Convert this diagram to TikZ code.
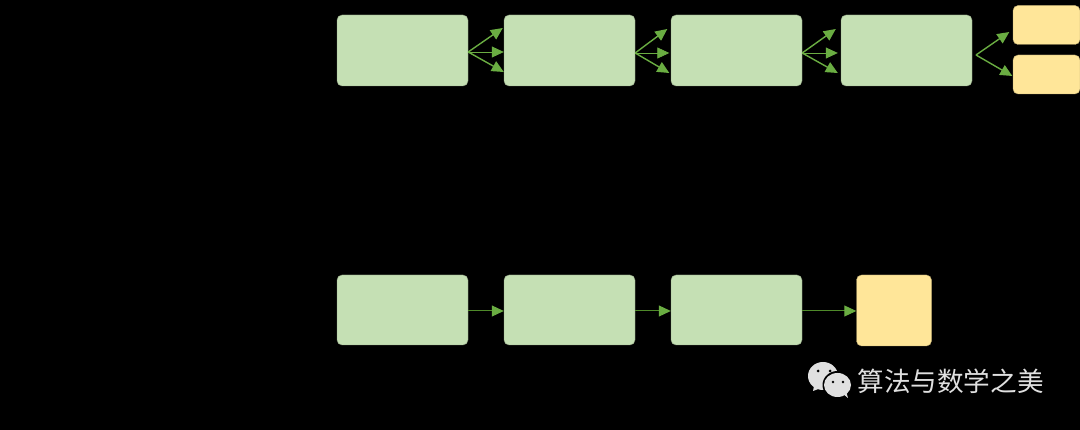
\documentclass[tikz,border=0pt]{standalone}
\usepackage{fontspec}
\newfontfamily\cjk{Noto Sans CJK SC}
\usetikzlibrary{arrows.meta}
\definecolor{boxgreen}{HTML}{C5E0B4}
\definecolor{boxyellow}{HTML}{FFE699}
\definecolor{arrowgreen}{HTML}{6AAD42}
\definecolor{linegreen}{HTML}{4F8A2A}
\definecolor{iconwhite}{HTML}{E0E0E0}
\tikzset{
    greenbox/.style={draw=boxgreen!70!black, line width=0.4pt, fill=boxgreen, rounded corners=5pt,
        inner sep=0pt, minimum width=131pt, minimum height=71pt},
    yellowbox/.style={draw=boxyellow!70!black, line width=0.4pt, fill=boxyellow, rounded corners=5pt,
        inner sep=0pt},
    fan/.style={draw=arrowgreen, line width=1.4pt, -{Triangle[length=12pt,width=11pt,color=arrowgreen]}},
    fanmid/.style={fan, line width=0.8pt},
    flow/.style={draw=linegreen, line width=1pt, -{Triangle[length=12pt,width=11pt,color=arrowgreen]}},
}
\begin{document}
\begin{tikzpicture}[x=1pt, y=-1pt]
    \useasboundingbox (0, 0) rectangle (1080, 430);
    \fill[black] (0, 0) rectangle (1080, 430);

    % top row
    \node[greenbox] (g1) at (402.5, 50.5) {};
    \node[greenbox] (g2) at (569.5, 50.5) {};
    \node[greenbox] (g3) at (736.5, 50.5) {};
    \node[greenbox] (g4) at (906.5, 50.5) {};
    \node[yellowbox, minimum width=67pt, minimum height=39pt] (y1) at (1046.5, 25) {};
    \node[yellowbox, minimum width=67pt, minimum height=39pt] (y2) at (1046.5, 74.5) {};

    \foreach \a/\b/\s/\u/\v in {g1/g2/-1.5/-1/0, g2/g3/-2.5/-3.5/-1.5, g3/g4/-2.5/-5/-3} {
        \draw[fan] ([yshift=\s pt]\a.east) -- ([xshift=\u pt, yshift=\s pt+24pt]\b.west);
        \draw[fanmid] ([yshift=\s pt]\a.east) -- ([xshift=\v pt, yshift=\s pt]\b.west);
        \draw[fan] ([yshift=\s pt]\a.east) -- ([xshift=\v pt, yshift=\s pt-20pt]\b.west);
    }
    \coordinate (g4out) at (976, 55);
    \draw[fan] (g4out) -- ([xshift=-3.5pt, yshift=-7pt]y1.west);
    \draw[fan] (g4out) -- ([xshift=-0.5pt, yshift=-1.5pt]y2.west);

    % bottom row
    \node[greenbox, minimum height=70pt] (h1) at (402.5, 310) {};
    \node[greenbox, minimum height=70pt] (h2) at (569.5, 310) {};
    \node[greenbox, minimum height=70pt] (h3) at (736.5, 310) {};
    \node[yellowbox, minimum width=75pt, minimum height=71pt] (y3) at (894, 310.5) {};

    \foreach \a/\b in {h1/h2, h2/h3, h3/y3} {
        \draw[flow] ([yshift=-1pt]\a.east) -- ([yshift=-1pt]\a.east -| \b.west);
    }

    % watermark
    \fill[iconwhite] (823, 376) ellipse [x radius=15, y radius=14];
    \fill[iconwhite] (814, 386) -- (813, 391) -- (821, 388) -- cycle;
    \fill[black] (837.5, 385) ellipse [x radius=15, y radius=14];
    \fill[iconwhite] (837.5, 385) ellipse [x radius=13.5, y radius=12];
    \fill[iconwhite] (843, 394) -- (848, 398) -- (846, 391) -- cycle;
    \foreach \x/\y/\r in {818/371/1.5, 830/371/1.5, 833/382/1.3, 843/382/1.3} {
        \fill[black] (\x, \y) circle [radius=\r];
    }
    \node[text=iconwhite, font=\cjk\fontsize{26.6}{30}\selectfont, inner sep=0pt] (mark) at (950.5, 381) {算法与数学之美};
\end{tikzpicture}
\end{document}
